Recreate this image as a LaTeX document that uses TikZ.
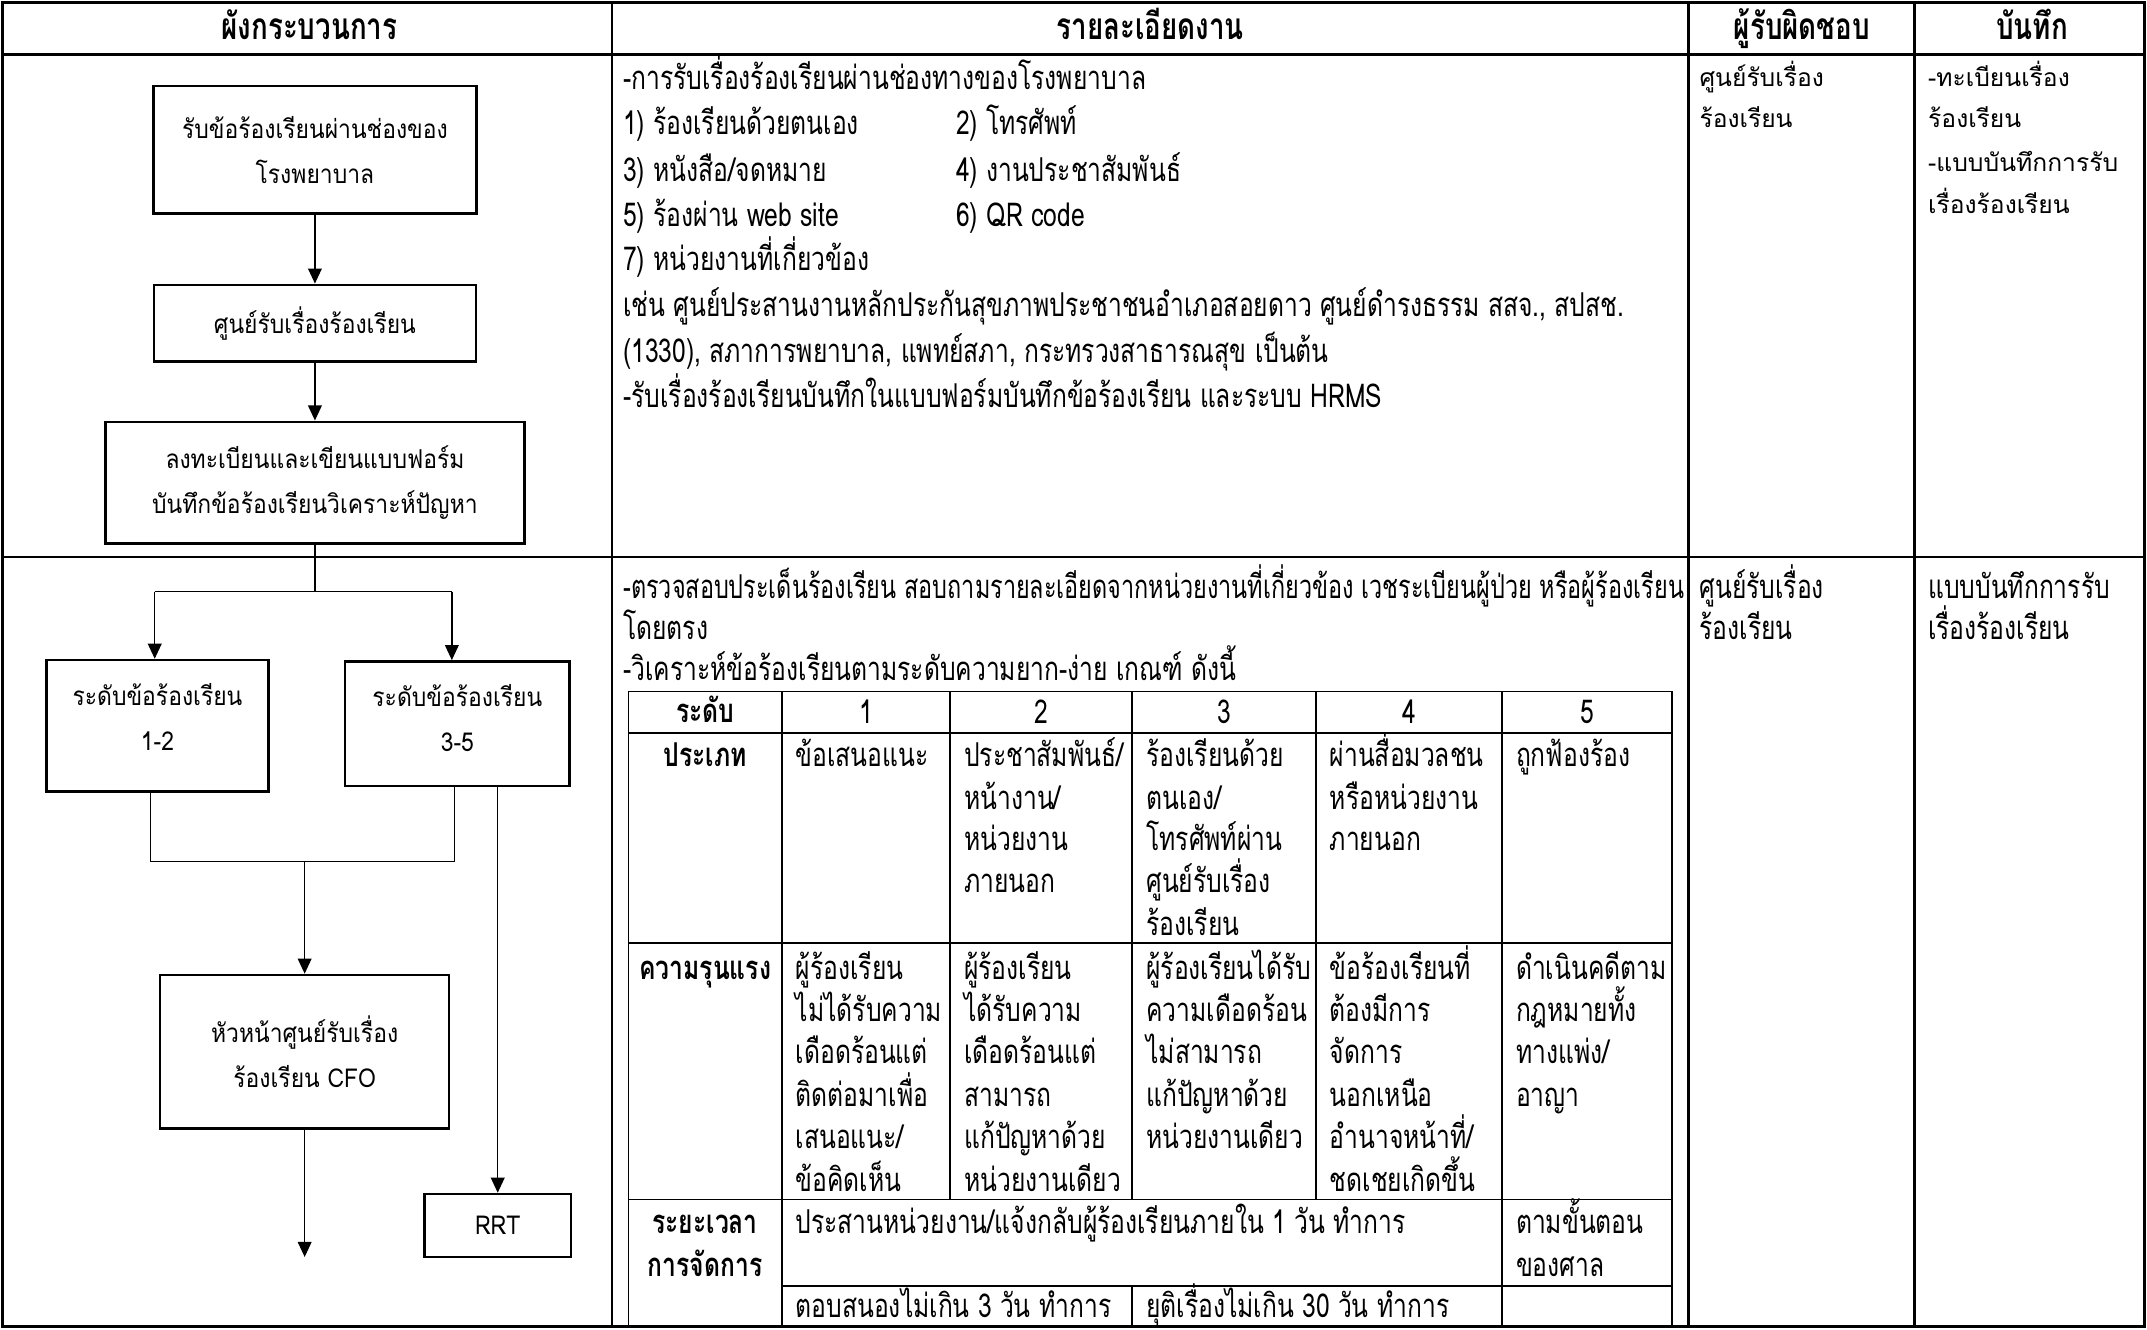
\documentclass[tikz,border=0pt]{standalone}
\usepackage{fontspec}
\usepackage{graphicx}
\usetikzlibrary{arrows.meta}
\newfontfamily\thai[Script=Thai]{Loma}
\newfontfamily\thaic[Script=Thai,FakeStretch=0.75]{Loma}
\newfontfamily\thaib[Script=Thai,FakeStretch=0.88]{Loma}
\tikzset{
  frame/.style={line width=2pt},
  tline/.style={line width=1.4pt},
  conn/.style={line width=1.1pt},
  arr/.style={conn,-{Triangle[width=10pt,length=11pt]}},
  fbox/.style={draw,line width=1.8pt,align=center,inner sep=0pt,font=\thaib\fontsize{19}{33}\selectfont},
  hd/.style={font=\thaic\bfseries\fontsize{27}{30}\selectfont,inner sep=0pt,anchor=base},
  dt/.style={font=\thaic\fontsize{24}{30}\selectfont,anchor=base west,inner sep=0pt},
  lb/.style={font=\thaic\bfseries\fontsize{24}{30}\selectfont,anchor=base,inner sep=0pt},
  ct/.style={font=\thaic\fontsize{24}{30}\selectfont,anchor=base,inner sep=0pt},
  rs/.style={font=\thai\fontsize{18}{30}\selectfont,anchor=base west,inner sep=0pt},
}
\begin{document}
\begin{tikzpicture}[x=1pt,y=-1pt]
\useasboundingbox (0,0) rectangle (1568,971);
\fill[white] (0,0) rectangle (1568,971);
% outer table
\draw[frame] (2,2) rectangle (1566,969);
\draw[frame] (2,40) -- (1566,40);
\draw[frame] (447,2) -- (447,969);
\draw[frame] (1233,2) -- (1233,969);
\draw[frame] (1398,2) -- (1398,969);
\draw[line width=1.5pt] (2,407) -- (1566,407);
% headers
\node[hd] (h1) at (226,29) {ผังกระบวนการ};
\node[hd] (h2) at (840,29) {รายละเอียดงาน};
\node[hd] (h3) at (1316,29) {ผู้รับผิดชอบ};
\node[hd] (h4) at (1484,29) {บันทึก};
% ---------- flowchart ----------
\node[fbox,minimum width=236pt,minimum height=93pt] (b1) at (230,109.5) {รับข้อร้องเรียนผ่านช่องของ\\โรงพยาบาล};
\node[fbox,minimum width=235pt,minimum height=56pt] (b2) at (230,236) {ศูนย์รับเรื่องร้องเรียน};
\node[fbox,minimum width=306pt,minimum height=89pt] (b3) at (230,352.5) {ลงทะเบียนและเขียนแบบฟอร์ม\\บันทึกข้อร้องเรียนวิเคราะห์ปัญหา};
\node[fbox,minimum width=162pt,minimum height=96pt] (bL) at (115,530) {ระดับข้อร้องเรียน\\1-2\\[-20pt]};
\node[fbox,minimum width=164pt,minimum height=91pt] (bR) at (334,528.5) {ระดับข้อร้องเรียน\\3-5\\[-25pt]};
\node[fbox,minimum width=211pt,minimum height=112pt] (cfo) at (222.5,768) {หัวหน้าศูนย์รับเรื่อง\\ร้องเรียน CFO};
\node[fbox,minimum width=107pt,minimum height=46pt] (rrt) at (363.5,895) {RRT};
\draw[arr] (b1.south) -- (b2.north);
\draw[arr] (b2.south) -- (b3.north);
\coordinate (s1) at (230,432);
\coordinate (sL) at (113,432);
\coordinate (sR) at (330,432);
\draw[conn] (b3.south) -- (s1);
\draw[conn] (sL) -- (sR);
\draw[arr] (sL) -- (sL |- bL.north);
\draw[arr] (sR) -- (sR |- bR.north);
\coordinate (m1) at (110,629);
\coordinate (m2) at (332,629);
\draw[conn] (m1 |- bL.south) -- (m1) -- (m2) -- (m2 |- bR.south);
\draw[arr] (cfo.north |- m1) -- (cfo.north);
\coordinate (e1) at (222.5,918);
\draw[arr] (cfo.south) -- (e1);
\draw[arr] (rrt.north |- bR.south) -- (rrt.north);
% ---------- row 1 details ----------
\node[dt] (d1) at (455,65.5) {-การรับเรื่องร้องเรียนผ่านช่องทางของโรงพยาบาล};
\node[dt] (d2) at (455,98.5) {1) ร้องเรียนด้วยตนเอง};
\node[dt] (d3) at (698,98.5) {2) โทรศัพท์};
\node[dt] (d4) at (455,132.5) {3) หนังสือ/จดหมาย};
\node[dt] (d5) at (698,132.5) {4) งานประชาสัมพันธ์};
\node[dt] (d6) at (455,165.5) {5) ร้องผ่าน web site};
\node[dt] (d7) at (698,165.5) {6) QR code};
\node[dt] (d8) at (455,197.5) {7) หน่วยงานที่เกี่ยวข้อง};
\node[dt] (d9) at (455,231.5) {เช่น ศูนย์ประสานงานหลักประกันสุขภาพประชาชนอำเภอสอยดาว ศูนย์ดำรงธรรม สสจ., สปสช.};
\node[dt] (d10) at (455,264.5) {(1330), สภาการพยาบาล, แพทย์สภา, กระทรวงสาธารณสุข เป็นต้น};
\node[dt] (d11) at (455,297.5) {-รับเรื่องร้องเรียนบันทึกในแบบฟอร์มบันทึกข้อร้องเรียน และระบบ HRMS};
\node[rs] (r1) at (1241,63) {ศูนย์รับเรื่อง};
\node[rs] (r2) at (1241,93) {ร้องเรียน};
\node[rs] (n1) at (1408,63) {-ทะเบียนเรื่อง};
\node[rs] (n2) at (1408,93) {ร้องเรียน};
\node[rs] (n3) at (1408,125) {-แบบบันทึกการรับ};
\node[rs] (n4) at (1408,156) {เรื่องร้องเรียน};
% ---------- row 2 details ----------
\node[dt] (e2) at (455,437) {\scalebox{0.95}[1]{-ตรวจสอบประเด็นร้องเรียน สอบถามรายละเอียดจากหน่วยงานที่เกี่ยวข้อง เวชระเบียนผู้ป่วย หรือผู้ร้องเรียน}};
\node[dt] (e3) at (455,467) {โดยตรง};
\node[dt] (e4) at (455,497) {-วิเคราะห์ข้อร้องเรียนตามระดับความยาก-ง่าย เกณฑ์ ดังนี้};
\node[dt] (r3) at (1241,437) {ศูนย์รับเรื่อง};
\node[dt] (r4) at (1241,467) {ร้องเรียน};
\node[dt] (n5) at (1408,437) {แบบบันทึกการรับ};
\node[dt] (n6) at (1408,467) {เรื่องร้องเรียน};
% ---------- inner table ----------
\draw[tline] (459,505) rectangle (1221,969);
\draw[tline] (459,535) -- (1221,535);
\draw[tline] (459,689) -- (1221,689);
\draw[tline] (459,876) -- (1221,876);
\draw[tline] (571,939) -- (1221,939);
\draw[tline] (571,505) -- (571,969);
\draw[tline] (694,505) -- (694,876);
\draw[tline] (827,505) -- (827,876);
\draw[tline] (827,939) -- (827,969);
\draw[tline] (961,505) -- (961,876);
\draw[tline] (1097,505) -- (1097,969);
\node[lb] (l1) at (515,528) {ระดับ};
\node[ct] (k1) at (632.5,528.5) {1};
\node[ct] (k2) at (760.5,528.5) {2};
\node[ct] (k3) at (894,528.5) {3};
\node[ct] (k4) at (1029,528.5) {4};
\node[ct] (k5) at (1159,528.5) {5};
\node[lb] (l2) at (515,560) {ประเภท};
\node[dt] (p1) at (581,560) {ข้อเสนอแนะ};
\node[dt] (p2a) at (704,560) {ประชาสัมพันธ์/};
\node[dt] (p2b) at (704,591) {หน้างาน/};
\node[dt] (p2c) at (704,621) {หน่วยงาน};
\node[dt] (p2d) at (704,652) {ภายนอก};
\node[dt] (p3a) at (837,560) {ร้องเรียนด้วย};
\node[dt] (p3b) at (837,591) {ตนเอง/};
\node[dt] (p3c) at (837,621) {โทรศัพท์ผ่าน};
\node[dt] (p3d) at (837,652) {ศูนย์รับเรื่อง};
\node[dt] (p3e) at (837,683) {ร้องเรียน};
\node[dt] (p4a) at (971,560) {ผ่านสื่อมวลชน};
\node[dt] (p4b) at (971,591) {หรือหน่วยงาน};
\node[dt] (p4c) at (971,621) {ภายนอก};
\node[dt] (p5) at (1107,560) {ถูกฟ้องร้อง};
\node[lb] (l3) at (515,715) {ความรุนแรง};
\node[dt] (s1a) at (581,715) {ผู้ร้องเรียน};
\node[dt] (s1b) at (581,746) {ไม่ได้รับความ};
\node[dt] (s1c) at (581,777) {เดือดร้อนแต่};
\node[dt] (s1d) at (581,808) {ติดต่อมาเพื่อ};
\node[dt] (s1e) at (581,839) {เสนอแนะ/};
\node[dt] (s1f) at (581,870) {ข้อคิดเห็น};
\node[dt] (s2a) at (704,715) {ผู้ร้องเรียน};
\node[dt] (s2b) at (704,746) {ได้รับความ};
\node[dt] (s2c) at (704,777) {เดือดร้อนแต่};
\node[dt] (s2d) at (704,808) {สามารถ};
\node[dt] (s2e) at (704,839) {แก้ปัญหาด้วย};
\node[dt] (s2f) at (704,870) {หน่วยงานเดียว};
\node[dt] (s3a) at (837,715) {ผู้ร้องเรียนได้รับ};
\node[dt] (s3b) at (837,746) {ความเดือดร้อน};
\node[dt] (s3c) at (837,777) {ไม่สามารถ};
\node[dt] (s3d) at (837,808) {แก้ปัญหาด้วย};
\node[dt] (s3e) at (837,839) {หน่วยงานเดียว};
\node[dt] (s4a) at (971,715) {ข้อร้องเรียนที่};
\node[dt] (s4b) at (971,746) {ต้องมีการ};
\node[dt] (s4c) at (971,777) {จัดการ};
\node[dt] (s4d) at (971,808) {นอกเหนือ};
\node[dt] (s4e) at (971,839) {อำนาจหน้าที่/};
\node[dt] (s4f) at (971,870) {ชดเชยเกิดขึ้น};
\node[dt] (s5a) at (1107,715) {ดำเนินคดีตาม};
\node[dt] (s5b) at (1107,746) {กฎหมายทั้ง};
\node[dt] (s5c) at (1107,777) {ทางแพ่ง/};
\node[dt] (s5d) at (1107,808) {อาญา};
\node[lb] (l4a) at (515,901) {ระยะเวลา};
\node[lb] (l4b) at (515,932) {การจัดการ};
\node[dt] (t1) at (581,901) {ประสานหน่วยงาน/แจ้งกลับผู้ร้องเรียนภายใน 1 วัน ทำการ};
\node[dt] (t2a) at (1107,901) {ตามขั้นตอน};
\node[dt] (t2b) at (1107,932) {ของศาล};
\node[dt] (t3) at (581,962.5) {ตอบสนองไม่เกิน 3 วัน ทำการ};
\node[dt] (t4) at (837,962.5) {ยุติเรื่องไม่เกิน 30 วัน ทำการ};
\end{tikzpicture}
\end{document}
